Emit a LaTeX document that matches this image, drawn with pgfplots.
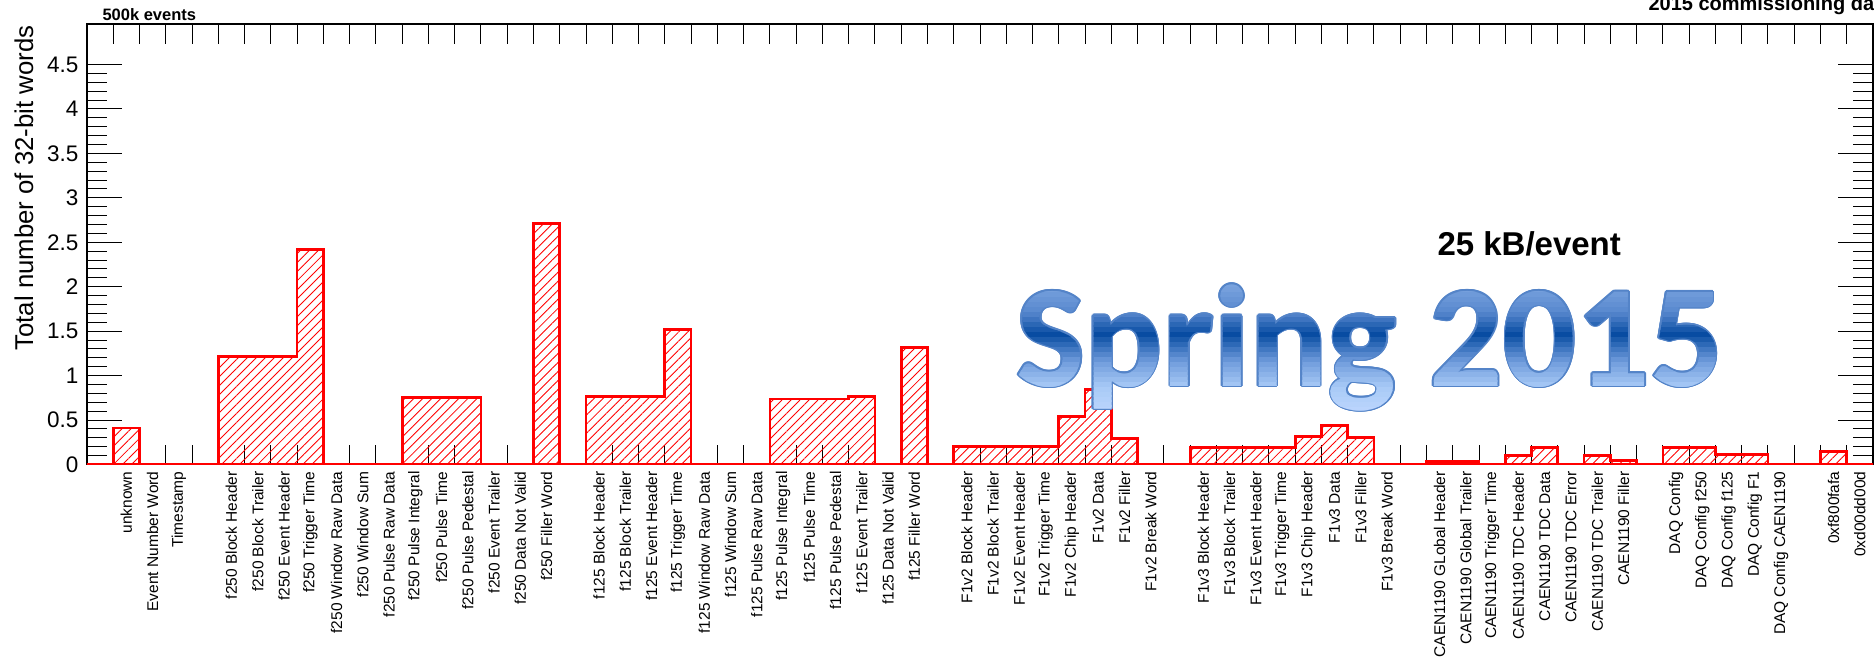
\documentclass[border=0pt]{standalone}
\usepackage{fontspec}
\setmainfont{Liberation Sans}
\newfontfamily\carlito{Carlito}
\usepackage{pgfplots}
\pgfplotsset{compat=1.18}
\usetikzlibrary{patterns.meta, calc}

% colours of the "Spring 2015" lettering, from top to bottom
\definecolor{sp0}{RGB}{120,162,222}
\definecolor{sp1}{RGB}{88,136,206}
\definecolor{sp2}{RGB}{8,76,162}
\definecolor{sp3}{RGB}{112,156,220}
\definecolor{sp4}{RGB}{168,202,246}
\definecolor{sp5}{RGB}{192,216,255}
\definecolor{spout}{RGB}{84,132,200}

\newcommand{\springfont}{\carlito\bfseries\fontsize{58}{58}\selectfont}

\pgfplotstableread{
x y
0 0
1 0.41
2 0
3 0
4 0
5 1.213
6 1.213
7 1.213
8 2.416
9 0
10 0
11 0
12 0.753
13 0.753
14 0.753
15 0
16 0
17 2.708
18 0
19 0.764
20 0.764
21 0.764
22 1.517
23 0
24 0
25 0
26 0.738
27 0.738
28 0.738
29 0.768
30 0
31 1.318
32 0
33 0.206
34 0.206
35 0.206
36 0.206
37 0.536
38 0.843
39 0.296
40 0
41 0
42 0.195
43 0.195
44 0.195
45 0.195
46 0.318
47 0.438
48 0.307
49 0
50 0
51 0.034
52 0.034
53 0
54 0.105
55 0.195
56 0
57 0.105
58 0.049
59 0
60 0.195
61 0.195
62 0.116
63 0.116
64 0
65 0
66 0.15
67 0
68 0
}\wordsdata

\begin{document}
\begin{tikzpicture}
\useasboundingbox (-34.8pt,-77.8pt) rectangle (714.8pt,185.8pt);
\begin{axis}[
    scale only axis,
    width=714.4pt, height=176.2pt,
    xmin=0, xmax=68, ymin=0, ymax=4.955,
    axis line style={black, line width=0.6pt},
    every tick/.style={black, line width=0.4pt},
    major tick length=14pt, minor tick length=8pt,
    xtick={0.5,1.5,...,67.5},
    major x tick style={draw=none},
    minor xtick={0,1,...,68},
    xticklabels={{},unknown,Event Number Word,Timestamp,{},
      f250 Block Header,f250 Block Trailer,f250 Event Header,f250 Trigger Time,
      f250 Window Raw Data,f250 Window Sum,f250 Pulse Raw Data,f250 Pulse Integral,
      f250 Pulse Time,f250 Pulse Pedestal,f250 Event Trailer,f250 Data Not Valid,
      f250 Filler Word,{},
      f125 Block Header,f125 Block Trailer,f125 Event Header,f125 Trigger Time,
      f125 Window Raw Data,f125 Window Sum,f125 Pulse Raw Data,f125 Pulse Integral,
      f125 Pulse Time,f125 Pulse Pedestal,f125 Event Trailer,f125 Data Not Valid,
      f125 Filler Word,{},
      F1v2 Block Header,F1v2 Block Trailer,F1v2 Event Header,F1v2 Trigger Time,
      F1v2 Chip Header,F1v2 Data,F1v2 Filler,F1v2 Break Word,{},
      F1v3 Block Header,F1v3 Block Trailer,F1v3 Event Header,F1v3 Trigger Time,
      F1v3 Chip Header,F1v3 Data,F1v3 Filler,F1v3 Break Word,{},
      CAEN1190 GLobal Header,CAEN1190 Global Trailer,CAEN1190 Trigger Time,
      CAEN1190 TDC Header,CAEN1190 TDC Data,CAEN1190 TDC Error,
      CAEN1190 TDC Trailer,CAEN1190 Filler,{},
      DAQ Config,DAQ Config f250,DAQ Config f125,DAQ Config F1,DAQ Config CAEN1190,{},
      0xf800fafa,0xd00dd00d},
    xticklabel style={font=\fontsize{6.2}{6.2}\selectfont, rotate=90, anchor=east, inner sep=2.6pt},
    ytick={0,0.5,...,4.5},
    yticklabels={0,0.5,1,1.5,2,2.5,3,3.5,4,4.5},
    minor y tick num=4,
    yticklabel style={font=\fontsize{9}{9}\selectfont, inner sep=3.2pt},
    /pgf/number format/assume math mode=true,
  ]
  \addplot[const plot, draw=red, line width=1.1pt,
    pattern={Lines[angle=45, distance=2.55pt, line width=0.35pt]}, pattern color=red]
    table[x=x, y=y] {\wordsdata} \closedcycle;
\end{axis}

% texts around the frame
\node[rotate=90, anchor=base east, inner sep=0pt, font=\fontsize{10.3}{10.3}\selectfont]
  at (-21.6pt,175.8pt) {Total number of 32-bit words};
\node[anchor=base west, inner sep=0pt, font=\bfseries\fontsize{6.6}{6.6}\selectfont]
  at (6pt,177.5pt) {500k events};
\node[anchor=base west, inner sep=0pt, font=\bfseries\fontsize{8}{8}\selectfont]
  at (624.4pt,181.8pt) {2015 commissioning data};
\node[anchor=base west, inner sep=0pt, font=\bfseries\fontsize{13.2}{13.2}\selectfont]
  at (540pt,83.8pt) {25 kB/event};

% Spring 2015: outline, then the letters in horizontal colour bands
\begin{scope}[yshift=31.4pt]
\foreach \a in {0,30,...,330}
  \node[anchor=base west, inner sep=0pt, text=spout, font=\springfont]
    at ($(371.6pt,0pt)+(\a:0.7pt)$) {Spring 2015};
\foreach \lo/\hi/\c in {
    -14/-9.9/sp4!8!sp5, -10/-7.9/sp4!25!sp5, -8/-5.9/sp4!42!sp5, -6/-3.9/sp4!58!sp5,
    -4/-1.9/sp4!75!sp5, -2/0.1/sp4!92!sp5,
    0/2.1/sp3!10!sp4, 2/4.1/sp3!30!sp4, 4/6.1/sp3!50!sp4, 6/8.1/sp3!70!sp4, 8/10.1/sp3!90!sp4,
    10/12.1/sp2!9!sp3, 12/14.1/sp2!27!sp3, 14/16.1/sp2!45!sp3, 16/18.1/sp2!64!sp3,
    18/20.1/sp2!82!sp3, 20/22.1/sp2,
    22/24.1/sp1!22!sp2, 24/26.1/sp1!44!sp2, 26/28.1/sp1!67!sp2, 28/30.1/sp1!89!sp2,
    30/32.1/sp0!10!sp1, 32/34.1/sp0!30!sp1, 34/36.1/sp0!50!sp1, 36/38.1/sp0!70!sp1,
    38/40.1/sp0!90!sp1, 40/50/sp0} {
  \begin{scope}
    \clip (360pt,\lo pt) rectangle (680pt,\hi pt);
    \node[anchor=base west, inner sep=0pt, text=\c, font=\springfont]
      at (371.6pt,0pt) {Spring 2015};
  \end{scope}
}
\end{scope}
\end{tikzpicture}
\end{document}
